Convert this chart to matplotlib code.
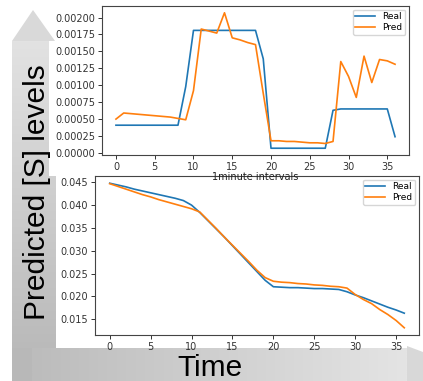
import numpy as np
import matplotlib
matplotlib.use("Agg")
import matplotlib.pyplot as plt
from matplotlib.patches import Polygon
from matplotlib.colors import LinearSegmentedColormap

# donnees
t = list(range(37))

real_top = [0.00041]*9 + [0.00098] + [0.00181]*9 + [0.00139] + [0.00007]*8 + \
           [0.00063] + [0.00065]*7 + [0.00024]
pred_top = [0.00050, 0.00059, 0.00058, 0.00057, 0.00056, 0.00055, 0.00054, 0.00053,
            0.00051, 0.00049, 0.00092, 0.00183, 0.00180, 0.00177, 0.00207, 0.00170,
            0.00167, 0.00163, 0.00160, 0.00088, 0.00018, 0.00018, 0.00017, 0.00017,
            0.00016, 0.00015, 0.00015, 0.00014, 0.00017, 0.00135, 0.00113, 0.00082,
            0.00143, 0.00104, 0.00138, 0.00136, 0.00131]

real_bot = [0.0448, 0.0444, 0.0440, 0.0435, 0.0431, 0.0427, 0.0423, 0.0419, 0.0415,
            0.0410, 0.0400, 0.0384, 0.0366, 0.0348, 0.0330, 0.0311, 0.0292, 0.0273,
            0.0254, 0.0235, 0.0221, 0.0220, 0.0219, 0.0219, 0.0218, 0.0217, 0.0217,
            0.0216, 0.0215, 0.0210, 0.0203, 0.0197, 0.0190, 0.0183, 0.0176, 0.0170,
            0.0163]
pred_bot = [0.0447, 0.0441, 0.0435, 0.0429, 0.0423, 0.0418, 0.0412, 0.0407, 0.0402,
            0.0397, 0.0392, 0.0385, 0.0367, 0.0349, 0.0330, 0.0312, 0.0294, 0.0276,
            0.0257, 0.0241, 0.0233, 0.0231, 0.0230, 0.0228, 0.0227, 0.0225, 0.0224,
            0.0222, 0.0221, 0.0218, 0.0204, 0.0193, 0.0184, 0.0171, 0.0160, 0.0147,
            0.0131]

top_yticks = [0, 0.00025, 0.0005, 0.00075, 0.001, 0.00125, 0.0015, 0.00175, 0.002]
bot_yticks = [0.015, 0.020, 0.025, 0.030, 0.035, 0.040, 0.045]

W, H = 423, 381
fig = plt.figure(figsize=(W/100, H/100), dpi=100)

# fond : fleches grises en degrade
bg = fig.add_axes([0, 0, 1, 1])
bg.set_xlim(0, W)
bg.set_ylim(H, 0)
bg.axis('off')

# fleche verticale
bg.add_patch(Polygon([(12, 41), (33, 10), (55, 41)], closed=True, fc='#d9d9d9', ec='none'))
grad_v = np.linspace(0, 1, 256).reshape(-1, 1)
bg.imshow(grad_v, cmap=LinearSegmentedColormap.from_list('v', ['#e2e2e2', '#b6b6b6']),
          extent=(12, 56, 381, 41), aspect='auto', zorder=1)

# fleche horizontale
grad_h = np.linspace(0, 1, 256).reshape(1, -1)
bg.imshow(grad_h, cmap=LinearSegmentedColormap.from_list('h', ['#bcbcbc', '#e4e4e4']),
          extent=(32, 407, 381, 348), aspect='auto', zorder=2)
bg.add_patch(Polygon([(12, 348), (32, 348), (32, 381), (12, 381)], closed=True,
                     fc='#b8b8b8', ec='none', zorder=2))
bg.add_patch(Polygon([(407, 346), (423, 352), (423, 381), (407, 381)], closed=True,
                     fc='#d8d8d8', ec='none', zorder=2))
# zone blanche du premier graphique
bg.add_patch(Polygon([(49, 41), (56, 41), (56, 176), (49, 176)], closed=True,
                     fc='white', ec='none', zorder=3))

bg.text(45, 192, 'Predicted [S] levels', rotation=90, rotation_mode='anchor',
        ha='center', va='baseline',
        fontsize=21.5, family='Liberation Sans', color='black', zorder=4)
bg.text(210, 376, 'Time', ha='center', va='baseline',
        fontsize=21.5, family='Liberation Sans', color='black', zorder=4)

c_real = '#1f77b4'
c_pred = '#ff7f0e'

ax2 = fig.add_axes([95/W, 1-335/H, 324/W, 159/H])
ax2.plot(t, real_bot, color=c_real, lw=1.2, label='Real')
ax2.plot(t, pred_bot, color=c_pred, lw=1.2, label='Pred')
ax2.set_yticks(bot_yticks)
ax2.set_yticklabels(['%.3f' % v for v in bot_yticks])
ax2.set_xticks(range(0, 36, 5))

ax1 = fig.add_axes([102/W, 1-155/H, 307/W, 149/H])
ax1.plot(t, real_top, color=c_real, lw=1.2, label='Real')
ax1.plot(t, pred_top, color=c_pred, lw=1.2, label='Pred')
ax1.set_yticks(top_yticks)
ax1.set_yticklabels(['%.5f' % v for v in top_yticks])
ax1.set_xticks(range(0, 36, 5))
ax1.set_xlabel('1minute intervals', fontsize=7, labelpad=0, color='#222222')

for ax in (ax1, ax2):
    ax.legend(loc='upper right', fontsize=6.5, labelspacing=0.2, borderpad=0.3,
              handlelength=2.2, borderaxespad=0.4)
    ax.tick_params(labelsize=7, colors='#333333', length=3, width=0.7, pad=2)
    for s in ax.spines.values():
        s.set_color('#444444')
        s.set_linewidth(0.8)

fig.savefig('out.png', dpi=100)
